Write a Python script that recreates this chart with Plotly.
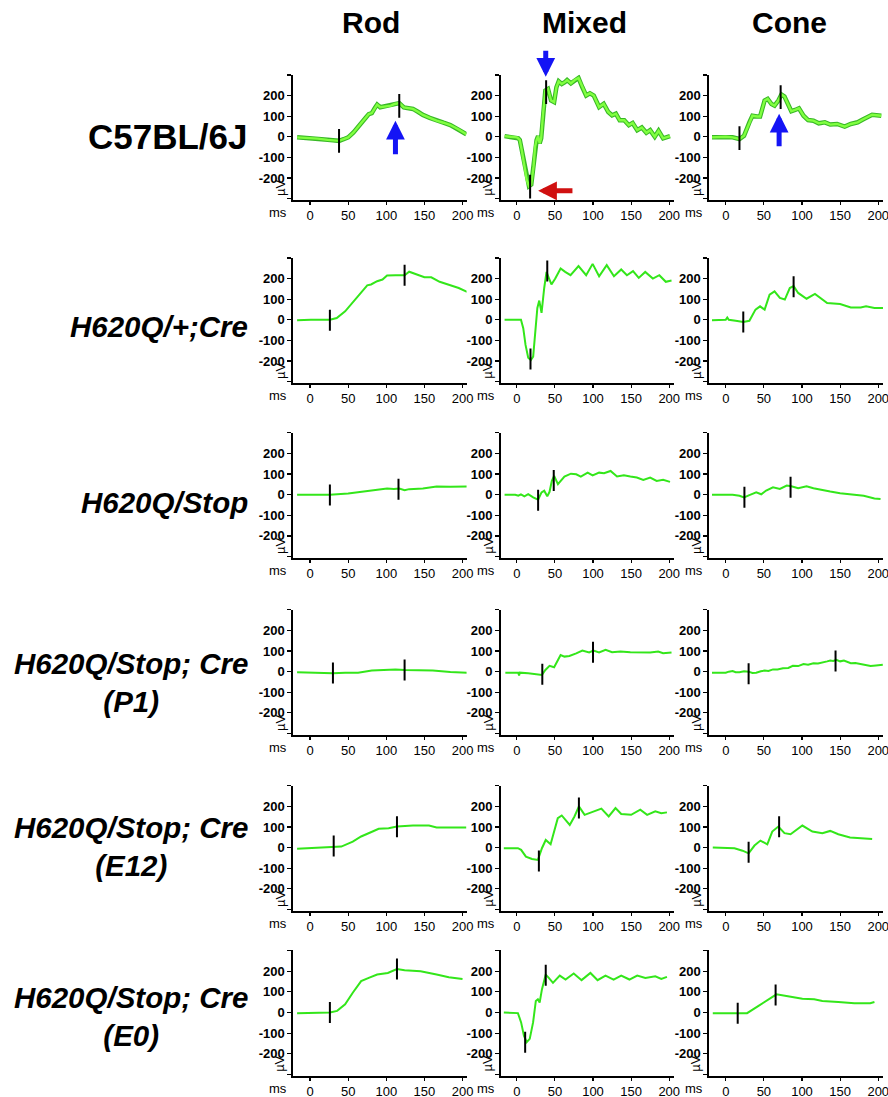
import plotly.graph_objects as go

# ---------------- data (time in ms, amplitude in µV) ----------------
ROWS = ["C57BL/6J", "H620Q/+;Cre", "H620Q/Stop", "H620Q/Stop; Cre<br>(P1)",
        "H620Q/Stop; Cre<br>(E12)", "H620Q/Stop; Cre<br>(E0)"]
COLS = ["Rod", "Mixed", "Cone"]
X_TICKS = [0, 50, 100, 150, 200]
Y_TICKS = [-300, -200, -100, 0, 100, 200, 300]
Y_TICK_TEXT = ["", "-200", "-100", "0", "100", "200", ""]

# Row 1: C57BL/6J
rod_wt_t = [-17, 0, 10, 23, 30, 38, 44, 50, 57, 63, 68, 73, 77, 81, 85, 88, 92, 99, 106, 111, 117, 123, 130, 135, 142, 148, 157, 166, 175, 184, 195, 205]
rod_wt_v = [-3, -6, -9, -15, -17, -20, -12, -3, 21, 45, 70, 92, 110, 115, 140, 156, 143, 148, 151, 159, 163, 142, 140, 135, 120, 106, 92, 78, 68, 57, 35, 12]
rod_wt_mt = [38, 117]
rod_wt_mv = [-20, 150]
mix_wt_t = [-16, 0, 2, 4, 6.5, 10, 13, 16, 19, 22, 24, 26, 28, 30, 32, 34.5, 37.5, 41, 45, 49, 52, 55, 59, 63, 66, 71, 76, 81, 86, 91, 96, 101, 108, 114, 120, 125, 130, 135, 141, 147, 152, 158, 164, 170, 175, 181, 186, 192, 201]
mix_wt_v = [3, -3, -8, -16, -64, -144, -208, -240, -232, -144, -48, -16, 3, -32, -8, 112, 224, 232, 176, 168, 240, 269, 256, 265, 275, 259, 275, 285, 240, 200, 211, 200, 144, 160, 120, 104, 112, 80, 80, 56, 67, 32, 45, 19, 32, 0, 29, -8, 3]
mix_wt_mt = [17.5, 38.5]
mix_wt_mv = [-242, 216]
cone_wt_t = [-18, 0, 9, 18, 24, 31, 35, 41, 45, 51, 55, 60, 64, 69, 73, 77, 82, 86, 91, 96, 102, 108, 115, 122, 130, 137, 146, 156, 164, 173, 181, 192, 204]
cone_wt_v = [-3, 0, -3, -11, 5, 70, 102, 98, 98, 176, 184, 159, 151, 176, 205, 195, 159, 124, 130, 138, 102, 81, 78, 65, 70, 59, 62, 49, 62, 70, 86, 107, 102]
cone_wt_mt = [18, 72]
cone_wt_mv = [-7, 192]

# Row 2: H620Q/+;Cre
rod_h_t = [-17, 1, 26, 35, 46, 57, 68, 75, 80, 88, 95, 101, 112, 124, 130, 139, 150, 159, 170, 184, 195, 206]
rod_h_v = [-3, 0, 0, 8, 41, 89, 138, 167, 171, 187, 195, 215, 216, 216, 233, 220, 206, 206, 184, 167, 154, 135]
rod_h_mt = [124, 26]
rod_h_mv = [216, -2]
mix_h_t = [-16, 5.5, 8.5, 11.5, 15, 18.5, 21.5, 24.5, 27, 29.5, 32.5, 36, 39, 42, 45.5, 50.5, 57.5, 63.5, 70.5, 81, 91, 99.5, 108, 118, 127.5, 137, 144.5, 152.5, 160, 168.5, 178.5, 187, 195.5, 203]
mix_h_v = [0, 0, -41, -122, -184, -195, -179, -57, 57, 93, 33, 154, 232, 203, 171, 200, 249, 232, 216, 260, 216, 271, 211, 265, 211, 244, 216, 236, 203, 232, 200, 216, 184, 190]
mix_h_mt = [18, 40]
mix_h_mv = [-190, 236]
cone_h_t = [-18, 0, 2, 4, 13, 23, 31, 39, 45, 51, 57.5, 64, 71, 77.5, 84, 89, 95, 106, 117, 126, 133, 150, 164, 177, 184, 195, 207]
cone_h_v = [-3, 0, 11, 0, -5, -11, -5, 49, 65, 49, 122, 138, 106, 98, 154, 163, 130, 102, 125, 98, 81, 76, 60, 60, 65, 57, 57]
cone_h_mt = [23, 89]
cone_h_mv = [-11, 160]

# Row 3: H620Q/Stop
rod_s_t = [-17, 26, 50, 68, 80, 90, 101, 110, 117, 124, 130, 148, 166, 184, 206]
rod_s_v = [0, 0, 6, 14, 20, 24, 30, 28, 30, 22, 27, 30, 40, 38, 40]
rod_s_mt = [26, 116]
rod_s_mv = [-2, 27]
mix_s_t = [-16, -2, 2, 5.5, 10, 15, 21.5, 28, 32.5, 36, 40, 43, 46, 49, 54, 62.5, 71, 78, 84, 93, 99.5, 108, 114.5, 123, 131.5, 140.5, 149, 157.5, 166, 175, 183.5, 192, 201]
mix_s_v = [0, 0, -5, 2, -8, 3, -13, -24, 11, 19, -8, 14, 67, 91, 51, 88, 102, 99, 88, 107, 94, 107, 104, 115, 88, 94, 88, 83, 72, 83, 67, 72, 62]
mix_s_mt = [28, 48.5]
mix_s_mv = [-27, 69]
cone_s_t = [-18, 9, 18, 24, 31, 40, 46.5, 53, 62, 71, 80, 86, 95, 106, 115, 124, 137, 150, 168, 181, 195, 203]
cone_s_v = [0, 0, -5, -13, -2, 11, 2, 20, 36, 28, 44, 41, 31, 41, 31, 23, 15, 7, 2, -5, -18, -21]
cone_s_mt = [24.5, 85]
cone_s_mv = [-13, 36]

# Row 4: H620Q/Stop; Cre (P1)
rod_p_t = [-17, 1, 15, 30, 46, 63, 81, 99, 112, 124, 143, 161, 184, 208]
rod_p_v = [-3, -5, -8, -8, -5, -5, 5, 8, 11, 8, 8, 5, -2, -5]
rod_p_mt = [30, 124]
rod_p_mv = [-7, 8]
mix_p_t = [-15, -2, 2, 3, 4, 15, 28, 33, 37.5, 43, 49, 53, 57.5, 62.5, 69, 78, 86, 95, 100.5, 108, 116.5, 125, 136, 149, 162, 175, 185.5, 192, 203]
mix_p_v = [-5, -5, -5, -18, -5, -8, -16, -16, 8, 28, 21, 49, 81, 73, 76, 89, 102, 93, 102, 93, 106, 94, 98, 94, 93, 93, 98, 89, 93]
mix_p_mt = [33.5, 100]
mix_p_mv = [-13, 94]
cone_p_t = [-18, 0, 4, 9, 13, 18, 24, 30, 35, 40, 46, 51, 56, 62, 68, 75, 82, 88, 95, 102, 108, 115, 121, 128, 133, 137, 141, 145, 150, 155, 160, 164, 170, 177, 183, 190, 197, 206]
cone_p_v = [-5, -5, 0, 3, -3, -3, 2, 0, -6, -5, 2, 5, 3, 11, 10, 16, 18, 28, 27, 37, 34, 41, 40, 44, 50, 54, 52, 57, 50, 54, 46, 41, 42, 37, 33, 28, 30, 33]
cone_p_mt = [30, 144]
cone_p_mv = [-10, 52]

# Row 5: H620Q/Stop; Cre (E12)
rod_e12_t = [-17, 0, 20, 31, 41, 56, 67, 82, 90, 103, 114, 135, 156, 166, 185, 205]
rod_e12_v = [-6, -3, 0, 2, 5, 29, 54, 78, 91, 94, 102, 107, 107, 98, 98, 98]
rod_e12_mt = [31, 114]
rod_e12_mv = [8, 101]
mix_e12_t = [-17, 1.5, 5.7, 12, 20, 27.7, 33, 38, 44.4, 48.6, 53.8, 59, 64, 69.5, 75.7, 81.5, 89, 98, 111, 120.6, 129.5, 137, 150, 162, 171, 181.7, 189.6, 197]
mix_e12_v = [-3, -3, -11, -44, -55, -60, -3, 37, 16, 70, 143, 156, 135, 110, 151, 200, 159, 171, 189, 151, 192, 163, 159, 184, 159, 176, 167, 171]
mix_e12_mt = [29, 81.5]
mix_e12_mv = [-65, 192]
cone_e12_t = [-17, 11.5, 22, 30, 37.7, 45.5, 54.5, 61, 69, 77, 85, 100.5, 113.6, 126.7, 137, 147.6, 163, 179, 192]
cone_e12_v = [0, -3, -15, -28, 10, 34, 16, 78, 102, 70, 65, 107, 78, 70, 81, 65, 49, 46, 42]
cone_e12_mt = [30, 70]
cone_e12_mv = [-23, 101]

# Row 6: H620Q/Stop; Cre (E0)
rod_e0_t = [-17, 0, 20, 26, 35.5, 46, 56, 67, 77, 88, 102, 114, 124, 145, 166, 182, 200]
rod_e0_v = [-3, -3, 0, 0, 8, 40, 96, 152, 168, 184, 192, 211, 205, 200, 184, 171, 163]
rod_e0_mt = [26, 114]
rod_e0_mv = [0, 211]
mix_e0_t = [-17, 1.5, 5.7, 9.4, 13, 17, 21.4, 25, 27.7, 30, 33, 38, 42, 47.5, 56.4, 64, 74.7, 85, 96.6, 106, 116.4, 127, 137, 147.8, 158, 168.7, 181.7, 189.6, 197]
mix_e0_v = [0, -3, -48, -112, -144, -128, -48, 56, 64, 48, 112, 184, 168, 144, 179, 160, 189, 157, 192, 157, 179, 160, 179, 160, 179, 168, 176, 163, 173]
mix_e0_mt = [11, 38]
mix_e0_mv = [-144, 181]
cone_e0_t = [-17, 17, 28, 43, 56, 66.5, 79.6, 100.5, 116, 126.7, 147.6, 168.6, 189.5, 195]
cone_e0_v = [-3, -3, -3, 32, 64, 88, 80, 67, 64, 56, 51, 45, 45, 51]
cone_e0_mt = [15.7, 65.4]
cone_e0_mv = [-3, 85]

PANELS = [
    [(rod_wt_t, rod_wt_v, rod_wt_mt, rod_wt_mv), (mix_wt_t, mix_wt_v, mix_wt_mt, mix_wt_mv), (cone_wt_t, cone_wt_v, cone_wt_mt, cone_wt_mv)],
    [(rod_h_t, rod_h_v, rod_h_mt, rod_h_mv), (mix_h_t, mix_h_v, mix_h_mt, mix_h_mv), (cone_h_t, cone_h_v, cone_h_mt, cone_h_mv)],
    [(rod_s_t, rod_s_v, rod_s_mt, rod_s_mv), (mix_s_t, mix_s_v, mix_s_mt, mix_s_mv), (cone_s_t, cone_s_v, cone_s_mt, cone_s_mv)],
    [(rod_p_t, rod_p_v, rod_p_mt, rod_p_mv), (mix_p_t, mix_p_v, mix_p_mt, mix_p_mv), (cone_p_t, cone_p_v, cone_p_mt, cone_p_mv)],
    [(rod_e12_t, rod_e12_v, rod_e12_mt, rod_e12_mv), (mix_e12_t, mix_e12_v, mix_e12_mt, mix_e12_mv), (cone_e12_t, cone_e12_v, cone_e12_mt, cone_e12_mv)],
    [(rod_e0_t, rod_e0_v, rod_e0_mt, rod_e0_mv), (mix_e0_t, mix_e0_v, mix_e0_mt, mix_e0_mv), (cone_e0_t, cone_e0_v, cone_e0_mt, cone_e0_mv)],
]

# ---------------- layout geometry (reference pixels) ----------------
W, H = 888, 1097            # reference picture
FIG_W, FIG_H = 898, 1103    # figure size that lands on the reference picture size


def px(x):
    return min(1.0, max(0.0, x / W))


def py(y):
    return min(1.0, max(0.0, 1 - y / H))


COL_LEFT = [292, 499, 706.5]
COL_RIGHT = [465, 672, 880]
X_RANGES = [[-22.4, 205.3], [-21.1, 206.6], [-22.1, 206.2]]
ROW_ZERO = [136, 318, 492, 668, 843, 1007]
K = 0.205  # px per µV
Y_RANGE = [-308, 301]
ROW_LABEL_Y = [136, 325, 500, 679, 842, 1011]
COL_HEAD_X = [370, 583, 787]

FONT = "Liberation Sans, Arial, sans-serif"
GREEN = "#33e61a"

fig = go.Figure()
layout = dict(width=FIG_W, height=FIG_H, margin=dict(l=0, r=0, t=0, b=0),
              paper_bgcolor="white", plot_bgcolor="white", showlegend=False,
              font=dict(family=FONT, color="black"))
annotations = []

idx = 0
for r in range(6):
    z = ROW_ZERO[r]
    top = z - Y_RANGE[1] * K
    bot = z - Y_RANGE[0] * K
    for c in range(3):
        idx += 1
        xa = "x" if idx == 1 else f"x{idx}"
        ya = "y" if idx == 1 else f"y{idx}"
        t, v, mt, mv = PANELS[r][c]
        if r == 0:
            fig.add_trace(go.Scatter(x=t, y=v, mode="lines", xaxis=xa, yaxis=ya,
                                     line=dict(color="#38b826", width=4.5), hoverinfo="skip"))
            fig.add_trace(go.Scatter(x=t, y=v, mode="lines", xaxis=xa, yaxis=ya,
                                     line=dict(color="#80ff40", width=2.4), hoverinfo="skip"))
        else:
            fig.add_trace(go.Scatter(x=t, y=v, mode="lines", xaxis=xa, yaxis=ya,
                                     line=dict(color=GREEN, width=2), hoverinfo="skip"))
        fig.add_trace(go.Scatter(x=mt, y=mv, mode="markers", xaxis=xa, yaxis=ya,
                                 marker=dict(symbol="line-ns", size=17 if r == 0 else 15,
                                             line=dict(width=2, color="black")),
                                 hoverinfo="skip"))
        xkey = "xaxis" if idx == 1 else f"xaxis{idx}"
        ykey = "yaxis" if idx == 1 else f"yaxis{idx}"
        layout[xkey] = dict(domain=[px(COL_LEFT[c]), px(COL_RIGHT[c])], range=X_RANGES[c],
                            anchor=ya, showline=True, linecolor="black", linewidth=1.6,
                            ticks="outside", ticklen=3, tickwidth=1.2, tickcolor="black",
                            tickvals=X_TICKS, showgrid=False, zeroline=False,
                            tickfont=dict(family=FONT, size=13, color="black"))
        layout[ykey] = dict(domain=[py(bot), py(top)], range=Y_RANGE,
                            anchor=xa, showline=True, linecolor="black", linewidth=1.6,
                            ticks="outside", ticklen=4, tickwidth=1.2, tickcolor="black",
                            tickvals=Y_TICKS, ticktext=Y_TICK_TEXT, showgrid=False, zeroline=False,
                            tickfont=dict(family=FONT, size=13, color="black", weight="bold"))
        # "ms" and "µV" unit labels
        annotations.append(dict(text="ms", xref="paper", yref="paper",
                                x=px(COL_LEFT[c] - 15), y=py(bot + 12),
                                xanchor="center", yanchor="middle", showarrow=False,
                                font=dict(family=FONT, size=13, color="black")))
        annotations.append(dict(text="µV", xref="paper", yref="paper", textangle=-90,
                                x=px(COL_LEFT[c] - 13), y=py(bot - 12),
                                xanchor="center", yanchor="middle", showarrow=False,
                                font=dict(family=FONT, size=13, color="black")))

# Row labels
for r, lab in enumerate(ROWS):
    annotations.append(dict(text=lab, xref="paper", yref="paper",
                            x=px(249), y=py(ROW_LABEL_Y[r]),
                            xanchor="right", yanchor="middle", align="center", showarrow=False,
                            font=dict(family=FONT, size=35 if r == 0 else 29.5, color="black", weight="bold",
                                      style="normal" if r == 0 else "italic")))
# Column headers
for c, lab in enumerate(COLS):
    annotations.append(dict(text=lab, xref="paper", yref="paper",
                            x=px(COL_HEAD_X[c]), y=py(22),
                            xanchor="center", yanchor="middle", showarrow=False,
                            font=dict(family=FONT, size=30, color="black", weight="bold")))

# Arrows (row 1)
BLUE = "#1414f5"
RED = "#d01010"
arrows = [
    ("x", "y", 112, 78, 112, -92, BLUE),
    ("x2", "y2", 38, 291, 38, 425, BLUE),
    ("x2", "y2", 28, -262, 75, -262, RED),
    ("x3", "y3", 70, 112, 70, -53, BLUE),
]
for xr, yr, x, y, ax, ay, col in arrows:
    annotations.append(dict(text="", xref=xr, yref=yr, axref=xr, ayref=yr,
                            x=x, y=y, ax=ax, ay=ay, showarrow=True,
                            arrowhead=2, arrowsize=0.75, arrowwidth=5, arrowcolor=col))

layout["annotations"] = annotations
fig.update_layout(**layout)

PAGE_JS = """
document.documentElement.style.margin='0';
document.documentElement.style.overflow='hidden';
document.body.style.margin='0';
document.body.style.overflow='hidden';
"""
fig.write_html("out.html", config={"displayModeBar": False, "staticPlot": True},
               post_script=PAGE_JS)
